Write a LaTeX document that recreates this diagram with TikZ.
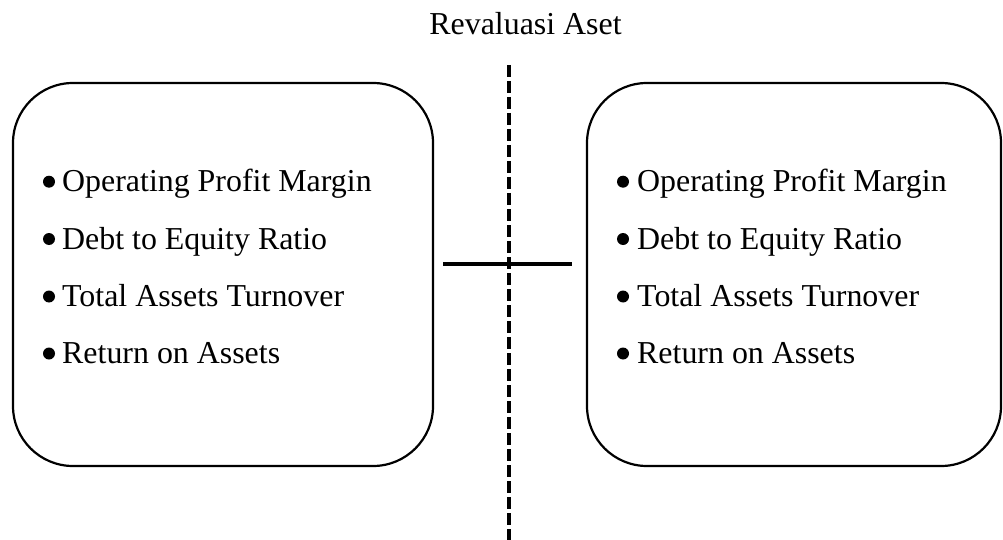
\documentclass[tikz,border=0pt]{standalone}
\usepackage{fontspec}
\setmainfont{Liberation Serif}
\tikzset{
  panel/.style={draw=black, line width=2.2pt, rounded corners=60pt, inner sep=0pt},
  item/.style={anchor=base west, inner sep=0pt, font=\fontsize{31.9}{38}\selectfont},
  dot/.style={circle, fill=black, draw=none, minimum size=12pt, inner sep=0pt},
  divider/.style={line width=4pt, dash pattern=on 12pt off 4pt},
  link/.style={line width=3.2pt}
}
\begin{document}
\begin{tikzpicture}[x=1pt, y=-1pt]
  \useasboundingbox (0,0) rectangle (1003,540);

  % heading
  \node[anchor=base, inner sep=0pt, font=\fontsize{31.9}{38}\selectfont] (title) at (525.5,35) {Revaluasi Aset};

  % the two rounded panels
  \node[panel, minimum width=420pt, minimum height=383pt] (L) at (223,274.5) {};
  \node[panel, minimum width=414pt, minimum height=383pt] (R) at (794,274.5) {};

  % bullet lists
  \foreach \side/\tx/\bx in {l/62/49, r/637/623} {
    \foreach \y/\t [count=\i] in {191.7/Operating Profit Margin, 249/Debt to Equity Ratio, 306.5/Total Assets Turnover, 363.5/Return on Assets} {
      \node[dot] (b\side\i) at (\bx,\y-10) {};
      \node[item] (t\side\i) at (\tx,\y) {\t};
    }
  }

  % dashed vertical divider and the short horizontal bar
  \coordinate (dtop) at (509.3,65);
  \coordinate (dbot) at (509.3,540);
  \coordinate (hl) at (443,264);
  \coordinate (hr) at (572,264);
  \draw[divider] (dtop) -- (dbot);
  \draw[link] (hl) -- (hr);
\end{tikzpicture}
\end{document}
